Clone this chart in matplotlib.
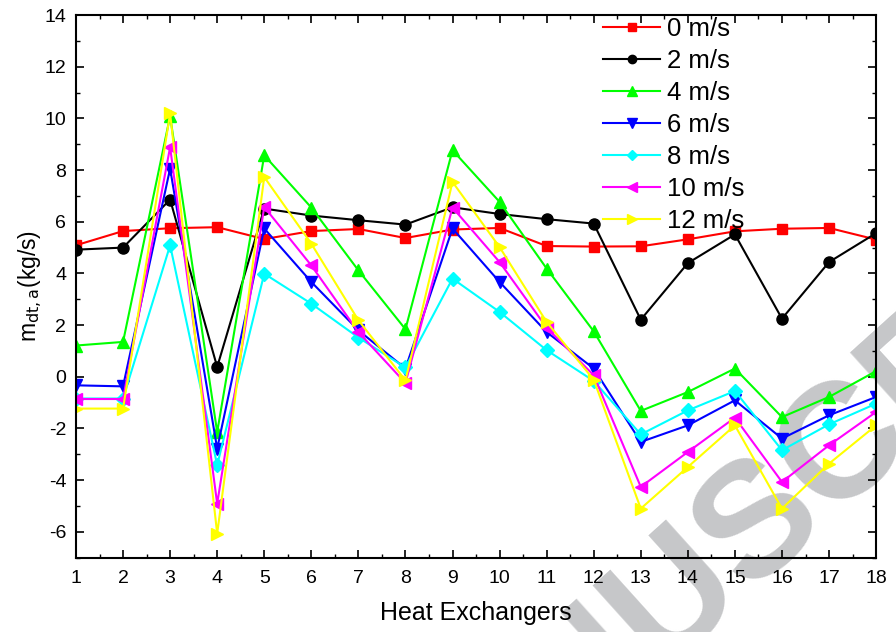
import numpy as np
import matplotlib.pyplot as plt
from matplotlib.ticker import MultipleLocator

plt.rcParams['font.family'] = ['Liberation Sans', 'DejaVu Sans']
plt.rcParams['axes.unicode_minus'] = False

hx = list(range(1, 19))
labels = ['0 m/s', '2 m/s', '4 m/s', '6 m/s', '8 m/s', '10 m/s', '12 m/s']

v0 = [5.09, 5.64, 5.75, 5.79, 5.33, 5.64, 5.72, 5.37, 5.70, 5.76, 5.06, 5.04, 5.05, 5.32, 5.63, 5.73, 5.76, 5.31]
v2 = [4.92, 5.00, 6.86, 0.38, 6.51, 6.24, 6.06, 5.89, 6.56, 6.30, 6.10, 5.93, 2.21, 4.40, 5.51, 2.25, 4.44, 5.56]
v4 = [1.21, 1.35, 10.09, -2.14, 8.57, 6.55, 4.12, 1.84, 8.77, 6.77, 4.19, 1.76, -1.32, -0.59, 0.32, -1.56, -0.78, 0.22]
v6 = [-0.33, -0.37, 8.06, -2.78, 5.74, 3.67, 1.80, 0.32, 5.74, 3.67, 1.73, 0.32, -2.52, -1.88, -0.91, -2.39, -1.49, -0.78]
v8 = [-0.84, -0.84, 5.09, -3.42, 3.99, 2.83, 1.52, 0.36, 3.80, 2.51, 1.03, -0.16, -2.23, -1.30, -0.55, -2.84, -1.84, -1.04]
v10 = [-0.86, -0.86, 8.89, -4.91, 6.57, 4.31, 1.73, -0.24, 6.55, 4.44, 1.90, 0.06, -4.26, -2.91, -1.58, -4.07, -2.65, -1.36]
v12 = [-1.23, -1.23, 10.19, -6.07, 7.73, 5.15, 2.19, -0.14, 7.54, 5.02, 2.12, -0.11, -5.10, -3.49, -1.88, -5.10, -3.36, -1.88]

series = [v0, v2, v4, v6, v8, v10, v12]
colors = ['#ff0000', '#000000', '#00ff00', '#0000ff', '#00ffff', '#ff00ff', '#ffff00']
markers = ['s', 'o', '^', 'v', 'D', '<', '>']
msizes = [7, 8, 9, 9, 7, 9, 9]

fig = plt.figure(figsize=(8.96, 6.32), dpi=100)
ax = fig.add_axes([0.0848, 0.1176, 0.893, 0.8586])
ax.set_facecolor('none')

# watermark, sits behind the axes
fig.text(0.846, 0.177, 'MANUSCRIPT', fontsize=118, color='#c6c7c9', fontweight='bold',
         rotation=42, rotation_mode='anchor', ha='center', va='center', zorder=-5)

for vals, lab, c, m, ms in zip(series, labels, colors, markers, msizes):
    ax.plot(hx, vals, color=c, marker=m, ms=ms, lw=1.5, label=lab)

ax.set_xlim(1, 18)
ax.set_ylim(-7, 14)
ax.xaxis.set_major_locator(MultipleLocator(1))
ax.xaxis.set_minor_locator(MultipleLocator(0.5))
ax.yaxis.set_major_locator(MultipleLocator(2))
ax.yaxis.set_minor_locator(MultipleLocator(1))
ax.tick_params(which='both', direction='in', top=True, right=True, labelsize=14)
ax.tick_params(which='major', length=6, width=1.2)
ax.tick_params(which='minor', length=3, width=1)
ax.tick_params(axis='x', pad=9)
ax.tick_params(axis='y', pad=7)
for s in ax.spines.values():
    s.set_linewidth(1.5)

ax.set_xlabel('Heat Exchangers', fontsize=18, labelpad=10)
ax.set_ylabel(r'm$_{\mathrm{dt,a}}$(kg/s)', fontsize=16.5, labelpad=0.5)

ax.legend(loc='upper left', bbox_to_anchor=(0.659, 0.996), frameon=False, fontsize=18.5,
          handlelength=2.2, labelspacing=0.31, handletextpad=0.28, markerscale=0.75,
          borderpad=0, borderaxespad=0)

fig.savefig('out.png', dpi=100)
